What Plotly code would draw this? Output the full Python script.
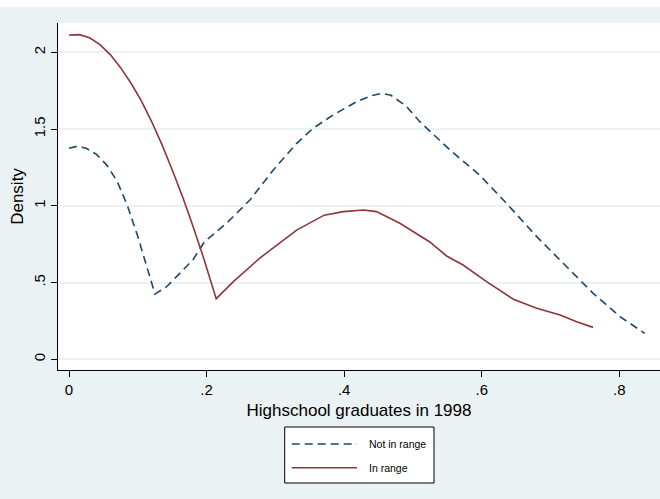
import plotly.graph_objects as go

# ---- data ----
not_in_range_x = [0.000, 0.012, 0.025, 0.040, 0.055, 0.070, 0.085, 0.100, 0.112,
                  0.125, 0.142, 0.180, 0.197, 0.229, 0.263, 0.297, 0.331, 0.355,
                  0.384, 0.418, 0.440, 0.455, 0.468, 0.491, 0.510, 0.554, 0.597,
                  0.636, 0.680, 0.723, 0.762, 0.801, 0.837]
not_in_range_y = [1.375, 1.388, 1.375, 1.335, 1.265, 1.160, 1.000, 0.800, 0.620,
                  0.425, 0.473, 0.647, 0.766, 0.886, 1.038, 1.233, 1.407, 1.505,
                  1.592, 1.678, 1.718, 1.733, 1.720, 1.646, 1.548, 1.363, 1.200,
                  1.016, 0.799, 0.603, 0.430, 0.278, 0.169]

in_range_x = [0.000, 0.015, 0.030, 0.045, 0.060, 0.075, 0.090, 0.105, 0.120,
              0.135, 0.150, 0.165, 0.180, 0.195, 0.214, 0.239, 0.277, 0.331,
              0.371, 0.399, 0.428, 0.447, 0.481, 0.524, 0.549, 0.573, 0.607,
              0.646, 0.680, 0.714, 0.738, 0.762]
in_range_y = [2.113, 2.115, 2.095, 2.050, 1.985, 1.900, 1.800, 1.685, 1.550,
              1.400, 1.235, 1.060, 0.870, 0.670, 0.395, 0.506, 0.658, 0.842,
              0.939, 0.962, 0.973, 0.962, 0.886, 0.766, 0.673, 0.614, 0.506,
              0.391, 0.332, 0.289, 0.245, 0.208]

series_names = ["Not in range", "In range"]
x_tick_vals = [0, 0.2, 0.4, 0.6, 0.8]
x_tick_text = ["0", ".2", ".4", ".6", ".8"]
y_tick_vals = [0, 0.5, 1, 1.5, 2]
y_tick_text = ["0", ".5", "1", "1.5", "2"]
x_title = "Highschool graduates in 1998"
y_title = "Density"

# ---- styling ----
BLUE = "#1a476f"
RED = "#90353b"
BG = "#eaf2f3"
FONT = "Liberation Sans, Arial, Helvetica, sans-serif"
DASH = "8px,5px"

fig = go.Figure()
fig.add_trace(go.Scatter(x=not_in_range_x, y=not_in_range_y, mode="lines",
                         name=series_names[0], showlegend=False,
                         line=dict(color=BLUE, width=1.6, dash=DASH)))
fig.add_trace(go.Scatter(x=in_range_x, y=in_range_y, mode="lines",
                         name=series_names[1], showlegend=False,
                         line=dict(color=RED, width=1.6)))

W, H = 660, 499
ML, MR, MT, MB = 58, 0, 23, 129
PW, PH = W - ML - MR, H - MT - MB


def px_x(p):
    return (p - ML) / PW


def px_y(p):
    return (H - MB - p) / PH


shapes = [
    # white strip at very top of the image
    dict(type="rect", xref="paper", yref="paper", x0=px_x(-2), x1=px_x(W + 2),
         y0=px_y(7), y1=px_y(-2), fillcolor="white", line=dict(width=0),
         layer="above"),
    # legend box
    dict(type="rect", xref="paper", yref="paper", x0=px_x(284.7), x1=px_x(434),
         y0=px_y(483), y1=px_y(427), fillcolor="white",
         line=dict(color="black", width=1), layer="above"),
    dict(type="line", xref="paper", yref="paper", x0=px_x(291.7), x1=px_x(357),
         y0=px_y(444), y1=px_y(444), line=dict(color=BLUE, width=1.6, dash=DASH),
         layer="above"),
    dict(type="line", xref="paper", yref="paper", x0=px_x(291.7), x1=px_x(357),
         y0=px_y(467.7), y1=px_y(467.7), line=dict(color=RED, width=1.6),
         layer="above"),
]
annotations = [
    dict(xref="paper", yref="paper", x=px_x(367), y=px_y(444), text=series_names[0],
         showarrow=False, xanchor="left", yanchor="middle",
         font=dict(family=FONT, size=10.5, color="black")),
    dict(xref="paper", yref="paper", x=px_x(367), y=px_y(467.7), text=series_names[1],
         showarrow=False, xanchor="left", yanchor="middle",
         font=dict(family=FONT, size=10.5, color="black")),
]

fig.update_layout(
    width=W, height=H,
    margin=dict(l=ML, r=MR, t=MT, b=MB, pad=0),
    paper_bgcolor=BG, plot_bgcolor="white",
    font=dict(family=FONT, color="black"),
    showlegend=False,
    shapes=shapes, annotations=annotations,
    xaxis=dict(
        range=[(58.3 - 69.3) / 687.5, (660 - 69.3) / 687.5],
        tickvals=x_tick_vals, ticktext=x_tick_text,
        showgrid=False, zeroline=False,
        showline=True, linecolor="black", linewidth=1,
        ticks="outside", ticklen=6, tickcolor="black", tickwidth=1,
        tickfont=dict(size=15, family=FONT, color="black"),
        title=dict(text=x_title, font=dict(size=17, family=FONT, color="black"),
                   standoff=7),
    ),
    yaxis=dict(
        range=[(359.3 - 370) / 153.5, (359.3 - 23) / 153.5],
        tickvals=y_tick_vals, ticktext=y_tick_text,
        showgrid=True, gridcolor=BG, gridwidth=1.5, zeroline=False,
        showline=True, linecolor="black", linewidth=1,
        ticks="outside", ticklen=6, tickcolor="black", tickwidth=1,
        tickangle=-90,
        tickfont=dict(size=15, family=FONT, color="black"),
        title=dict(text=y_title, font=dict(size=17, family=FONT, color="black"),
                   standoff=3),
    ),
)

fig.write_html("out.html", config={"displayModeBar": False},
               post_script="document.body.style.margin='0';")
